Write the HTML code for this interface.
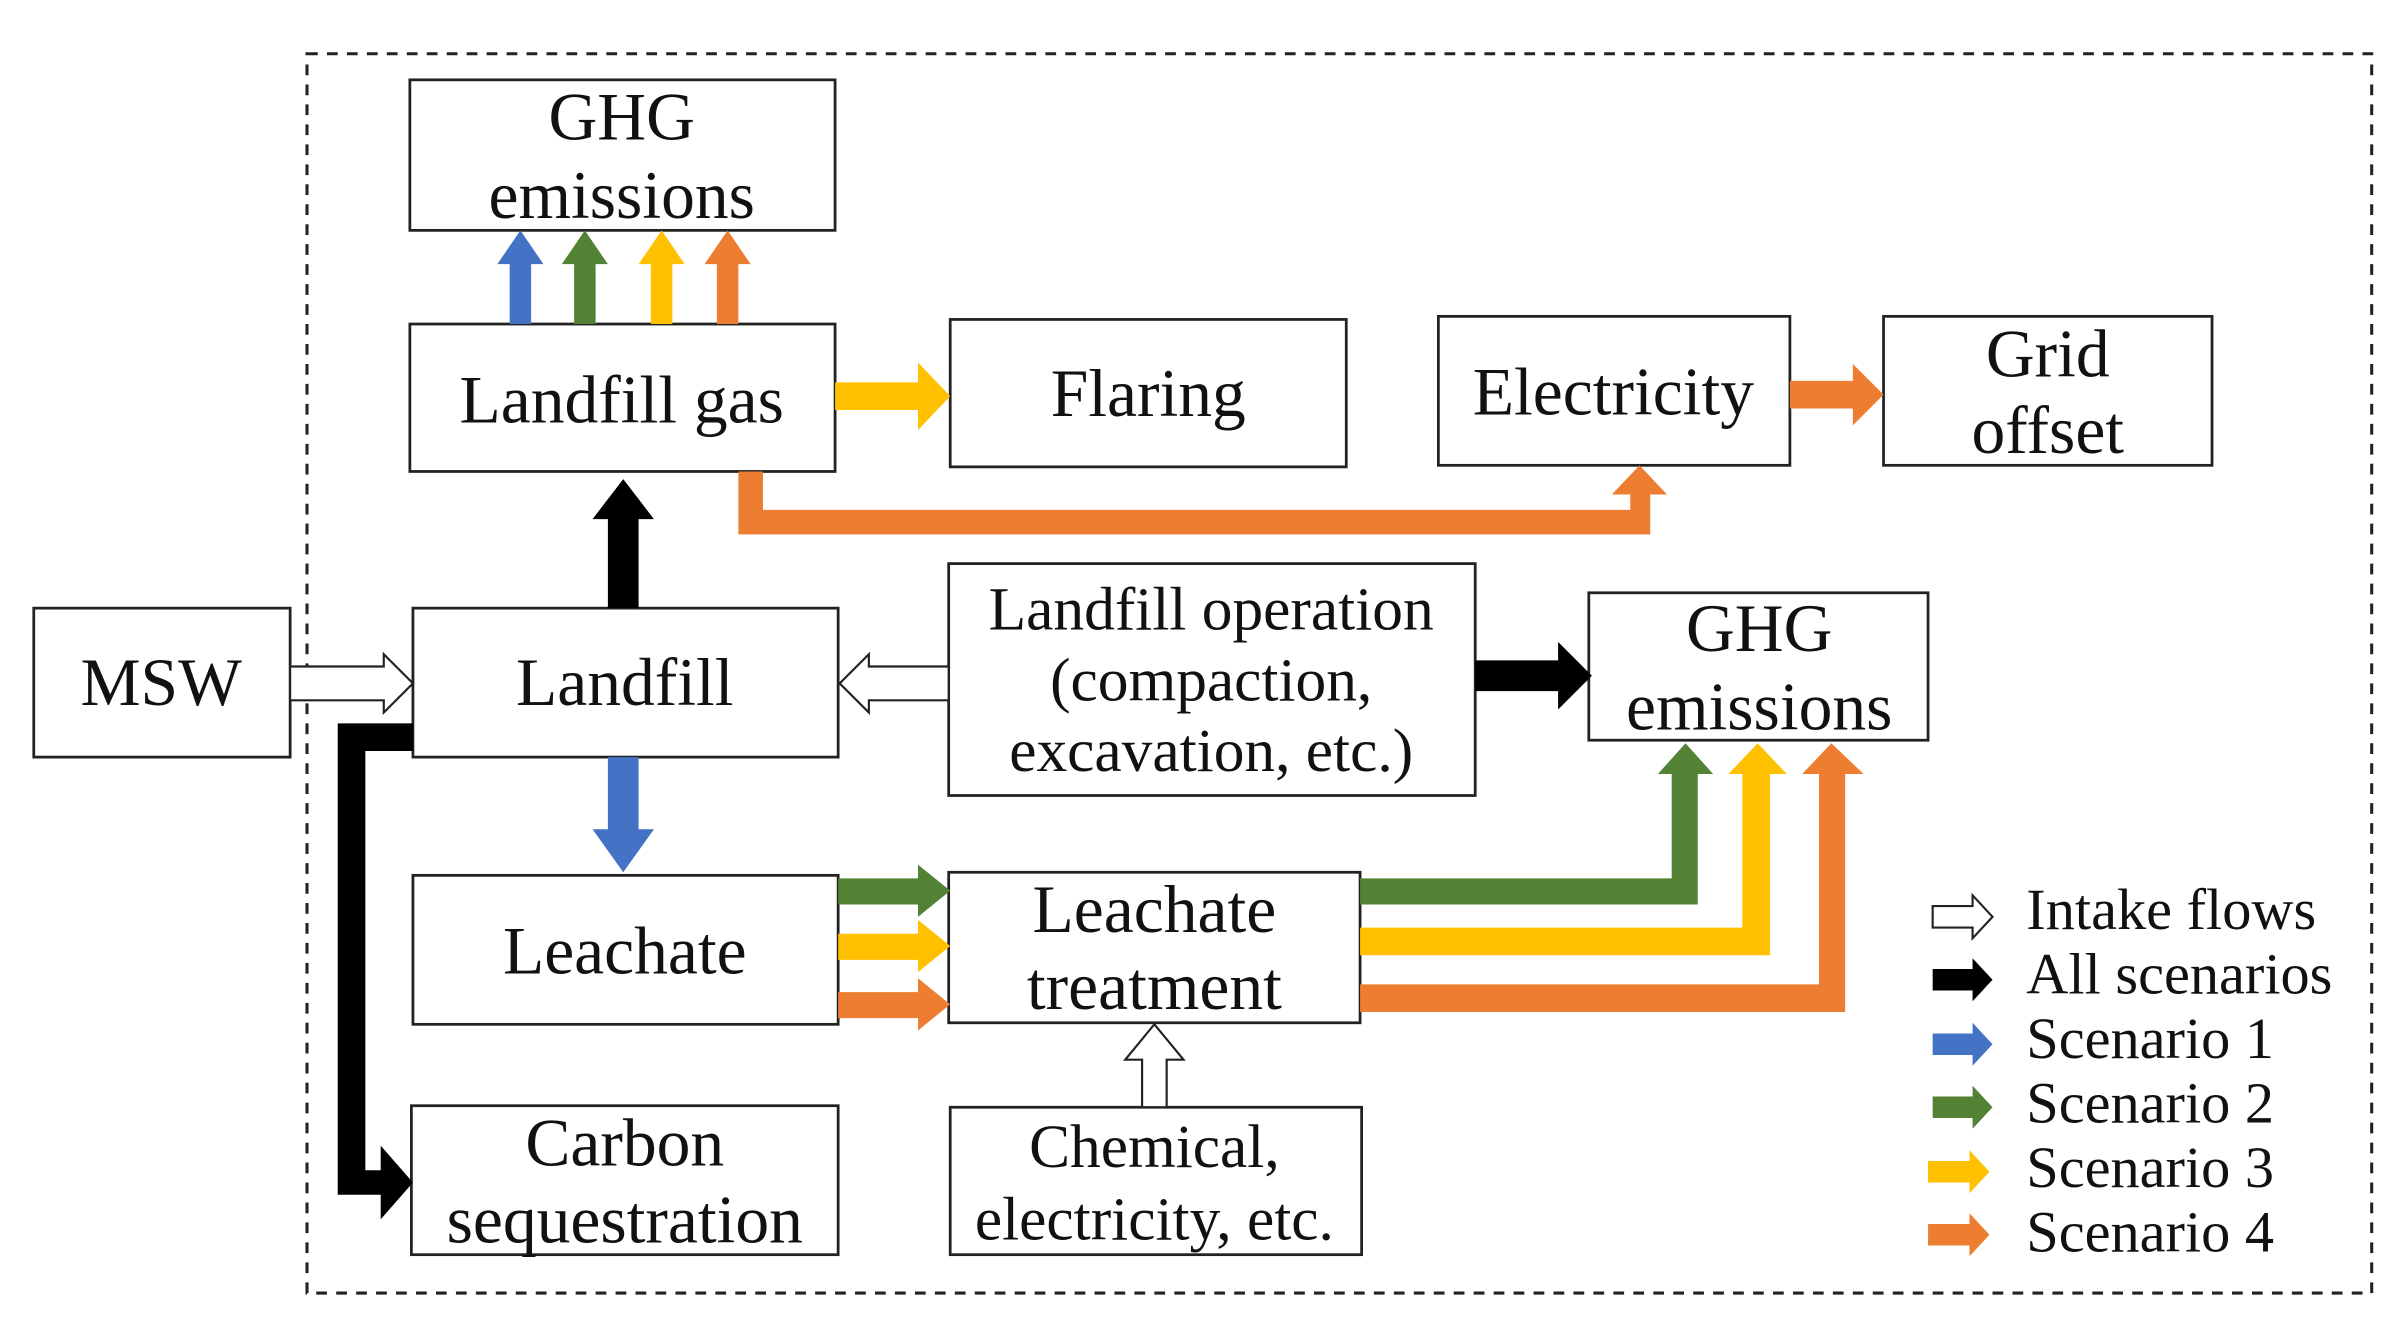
<!DOCTYPE html>
<html><head><meta charset="utf-8"><style>
html,body{margin:0;padding:0;background:#fff;}
svg{display:block}
text{font-family:"Liberation Serif",serif;fill:#111;text-anchor:middle}
</style></head><body>
<svg width="2407" height="1333" viewBox="0 0 1568 868" preserveAspectRatio="none" xmlns="http://www.w3.org/2000/svg">
<rect x="200" y="35" width="1345" height="807" fill="none" stroke="#222" stroke-width="2" stroke-dasharray="7,6"/>
<g fill="#fff" stroke="#222" stroke-width="1.8">
<rect x="267" y="52" width="277" height="98"/>
<rect x="267" y="211" width="277" height="96"/>
<rect x="619" y="208" width="258" height="96"/>
<rect x="937" y="206" width="229" height="97"/>
<rect x="1227" y="206" width="214" height="97"/>
<rect x="22" y="396" width="167" height="97"/>
<rect x="269" y="396" width="277" height="97"/>
<rect x="618" y="367" width="343" height="151"/>
<rect x="1035" y="386" width="221" height="96"/>
<rect x="269" y="570" width="277" height="97"/>
<rect x="618" y="568" width="268" height="98"/>
<rect x="268" y="720" width="278" height="97"/>
<rect x="619" y="721" width="268" height="96"/>
</g>
<polygon fill="#4472C4" points="332,211 332,172 324,172 339,150 354,172 346,172 346,211"/>
<polygon fill="#548235" points="374,211 374,172 366,172 381,150 396,172 388,172 388,211"/>
<polygon fill="#FFC000" points="424,211 424,172 416,172 431,150 446,172 438,172 438,211"/>
<polygon fill="#ED7D31" points="467,211 467,172 459,172 474,150 489,172 481,172 481,211"/>
<polygon fill="#000" points="396,396 396,338 386,338 406,312 426,338 416,338 416,396"/>
<polygon fill="#4472C4" points="396,493 396,540 386,540 406,568 426,540 416,540 416,493"/>
<polygon fill="#FFC000" points="544,249 598,249 598,236 619,258 598,280 598,267 544,267"/>
<polygon fill="#ED7D31" points="481,307 497,307 497,332 1062,332 1062,322 1050,322 1068,303 1086,322 1075,322 1075,348 481,348"/>
<polygon fill="#ED7D31" points="1166,248 1207,248 1207,237 1227,257 1207,277 1207,266 1166,266"/>
<polygon fill="#000" points="961,430 1015,430 1015,418 1037,440 1015,462 1015,450 961,450"/>
<polygon fill="#fff" stroke="#222" stroke-width="1.4" points="189,434 250,434 250,426 269,445 250,464 250,456 189,456"/>
<polygon fill="#fff" stroke="#222" stroke-width="1.4" points="618,434 566,434 566,426 547,445 566,464 566,456 618,456"/>
<polygon fill="#000" points="269,471 269,489 238,489 238,762 248,762 248,746 269,770 248,794 248,778 220,778 220,471"/>
<polygon fill="#548235" points="546,572 598,572 598,563 619,580 598,597 598,589 546,589"/>
<polygon fill="#FFC000" points="546,608 598,608 598,599 619,616 598,633 598,625 546,625"/>
<polygon fill="#ED7D31" points="546,646 598,646 598,637 619,654 598,671 598,663 546,663"/>
<polygon fill="#548235" points="886,572 1089,572 1089,504 1080,504 1098,484 1116,504 1106,504 1106,589 886,589"/>
<polygon fill="#FFC000" points="886,604 1135,604 1135,504 1126,504 1145,484 1164,504 1153,504 1153,622 886,622"/>
<polygon fill="#ED7D31" points="886,641 1185,641 1185,504 1174,504 1193,484 1214,504 1202,504 1202,659 886,659"/>
<polygon fill="#fff" stroke="#222" stroke-width="1.4" points="744,721 744,690 733,690 752,667 771,690 760,690 760,721"/>
<polygon fill="#fff" stroke="#222" stroke-width="1.4" points="1259,590 1285,590 1285,583 1298,597 1285,611 1285,604 1259,604"/>
<polygon fill="#000" points="1259,631 1285,631 1285,624 1298,638 1285,652 1285,645 1259,645"/>
<polygon fill="#4472C4" points="1259,673 1285,673 1285,666 1298,680 1285,694 1285,687 1259,687"/>
<polygon fill="#548235" points="1259,714 1285,714 1285,707 1298,721 1285,735 1285,728 1259,728"/>
<polygon fill="#FFC000" points="1256,756 1283,756 1283,749 1296,763 1283,777 1283,770 1256,770"/>
<polygon fill="#ED7D31" points="1256,797 1283,797 1283,790 1296,804 1283,818 1283,811 1256,811"/>
<g font-size="44">
<text x="405" y="91">GHG</text>
<text x="405" y="142">emissions</text>
<text x="405" y="275">Landfill gas</text>
<text x="748" y="271">Flaring</text>
<text x="1051" y="270">Electricity</text>
<text x="1334" y="245">Grid</text>
<text x="1334" y="295">offset</text>
<text x="105" y="459">MSW</text>
<text x="407" y="459">Landfill</text>
<text x="789" y="410" font-size="40">Landfill operation</text>
<text x="789" y="456" font-size="40">(compaction,</text>
<text x="789" y="502" font-size="40">excavation, etc.)</text>
<text x="1146" y="424">GHG</text>
<text x="1146" y="475">emissions</text>
<text x="407" y="634">Leachate</text>
<text x="752" y="607">Leachate</text>
<text x="752" y="657">treatment</text>
<text x="407" y="759">Carbon</text>
<text x="407" y="809">sequestration</text>
<text x="752" y="760" font-size="40">Chemical,</text>
<text x="752" y="807" font-size="40">electricity, etc.</text>
</g>
<g font-size="38">
<text x="1320" y="605" style="text-anchor:start">Intake flows</text>
<text x="1320" y="647" style="text-anchor:start">All scenarios</text>
<text x="1320" y="689" style="text-anchor:start">Scenario 1</text>
<text x="1320" y="731" style="text-anchor:start">Scenario 2</text>
<text x="1320" y="773" style="text-anchor:start">Scenario 3</text>
<text x="1320" y="815" style="text-anchor:start">Scenario 4</text>
</g>
</svg>
</body></html>
